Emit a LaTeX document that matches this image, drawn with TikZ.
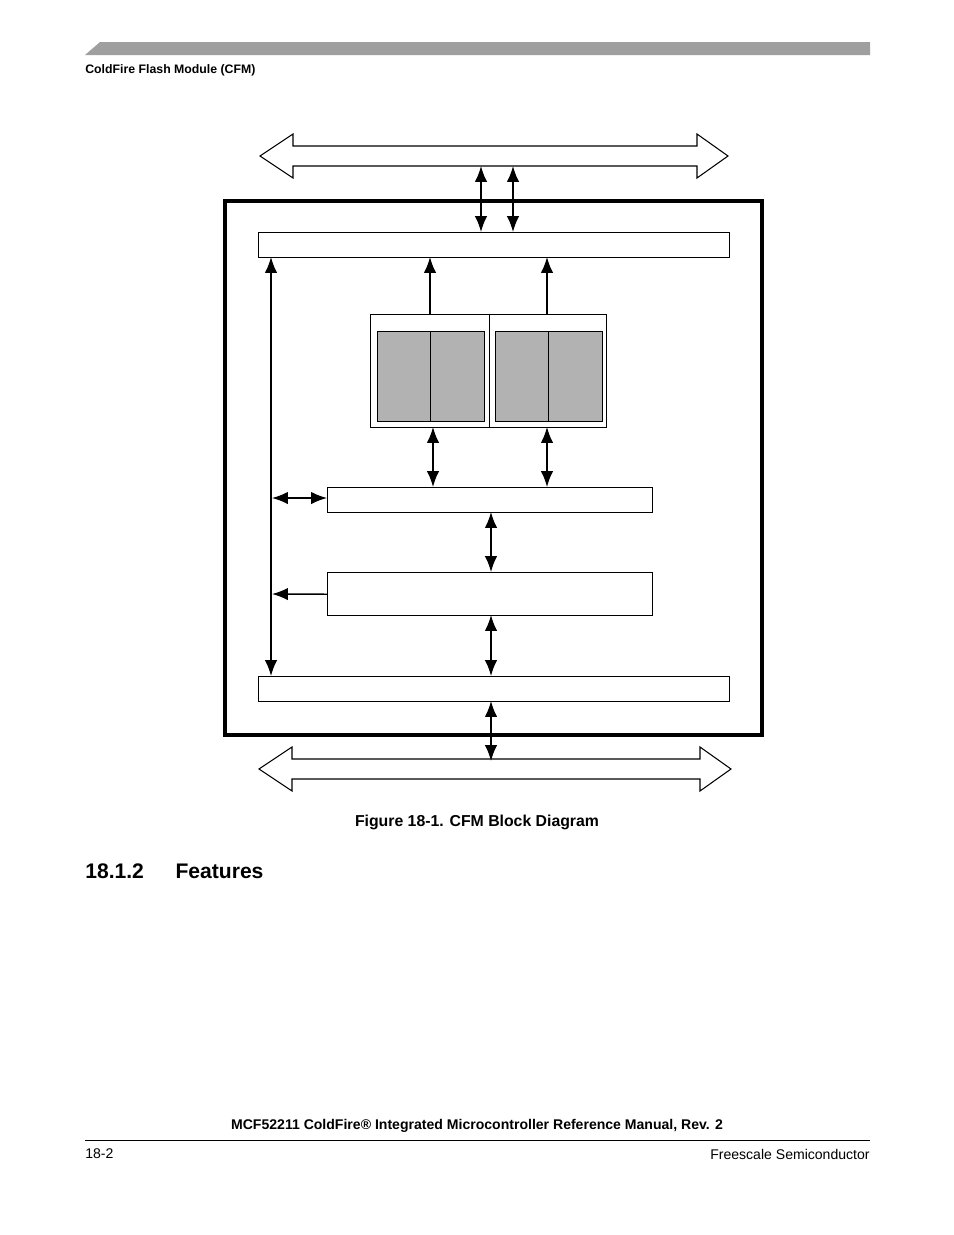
\documentclass[tikz,border=0pt]{standalone}
\usepackage{fontspec}
\setmainfont{Liberation Sans}
\usetikzlibrary{calc, positioning, arrows.meta}

\begin{document}
\begin{tikzpicture}[x=0.02cm, y=-0.02cm,
  blk/.style={draw, thick, inner sep=0pt, anchor=north west},
  dbl/.style={{Latex[length=9pt,width=7pt]}-{Latex[length=9pt,width=7pt]}, thick},
  one/.style={-{Latex[length=9pt,width=7pt]}, thick},
  bus/.style={draw, line width=0.6pt}]
\useasboundingbox (0,0) rectangle (954,1235);
% Page header
\fill[gray!75] (85,55) -- (100,42) -- (870,42) -- (870,55) -- cycle;
\node[anchor=west, font=\bfseries\scriptsize, inner sep=0pt] (header) at (85,70) {ColdFire Flash Module (CFM)};
% Top bus
\draw[bus] (260,156) -- (293,134) -- (293,146) -- (697,146) -- (697,134) -- (728,156)
  -- (697,178) -- (697,166) -- (293,166) -- (293,178) -- cycle;
\coordinate (topbus1) at (481,166);
\coordinate (topbus2) at (513,166);
% Module frame
\draw[line width=2pt] (225,201) rectangle (762,735);
% Blocks
\node[blk, minimum width=471*0.02cm, minimum height=25*0.02cm] (topbar) at (258,232) {};
\node[blk, minimum width=236*0.02cm, minimum height=113*0.02cm] (flash) at (370,314) {};
\draw (489,314) -- (489,427);
\node[blk, fill=gray!60, minimum width=107*0.02cm, minimum height=90*0.02cm] (arr1) at (377,331) {};
\node[blk, fill=gray!60, minimum width=107*0.02cm, minimum height=90*0.02cm] (arr2) at (495,331) {};
\draw (430,331) -- (430,421);
\draw (548,331) -- (548,421);
\node[blk, minimum width=325*0.02cm, minimum height=25*0.02cm] (midbar) at (327,487) {};
\node[blk, minimum width=325*0.02cm, minimum height=43*0.02cm] (ctrl) at (327,572) {};
\node[blk, minimum width=471*0.02cm, minimum height=25*0.02cm] (botbar) at (258,676) {};
% Connectors
\draw[dbl] (topbus1) -- (topbus1 |- topbar.north);
\draw[dbl] (topbus2) -- (topbus2 |- topbar.north);
\draw[one] (430,314) -- (430,257);
\draw[one] (547,314) -- (547,257);
\draw[dbl] (433,427) -- (433,487);
\draw[dbl] (547,427) -- (547,487);
\draw[dbl] (271,257) -- (271,676);
\draw[dbl] (272,498) -- (midbar.west |- 0,498);
\draw[one] (ctrl.west) -- (272,594);
\draw[dbl] (491,512) -- (491,572);
\draw[dbl] (491,615) -- (491,676);
\draw[dbl] (491,701) -- (491,761);
% Bottom bus
\draw[bus] (259,769) -- (292,747) -- (292,759) -- (700,759) -- (700,747) -- (731,769)
  -- (700,791) -- (700,779) -- (292,779) -- (292,791) -- cycle;
% Caption and text
\node[font=\bfseries\small] (caption) at (477,822) {Figure 18-1. CFM Block Diagram};
\node[anchor=west, font=\bfseries\large, inner sep=0pt] (section) at (85,871) {18.1.2\hspace{1.5em}Features};
% Footer
\node[font=\bfseries\fontsize{8}{10}\selectfont] (footer) at (477,1126) {MCF52211 ColdFire® Integrated Microcontroller Reference Manual, Rev. 2};
\draw[line width=0.5pt] (85,1140) -- (870,1140);
\node[anchor=west, font=\fontsize{8}{10}\selectfont, inner sep=0pt] (pageno) at (85,1154) {18-2};
\node[anchor=east, font=\fontsize{8}{10}\selectfont, inner sep=0pt] (vendor) at (870,1154) {Freescale Semiconductor};
\end{tikzpicture}
\end{document}
